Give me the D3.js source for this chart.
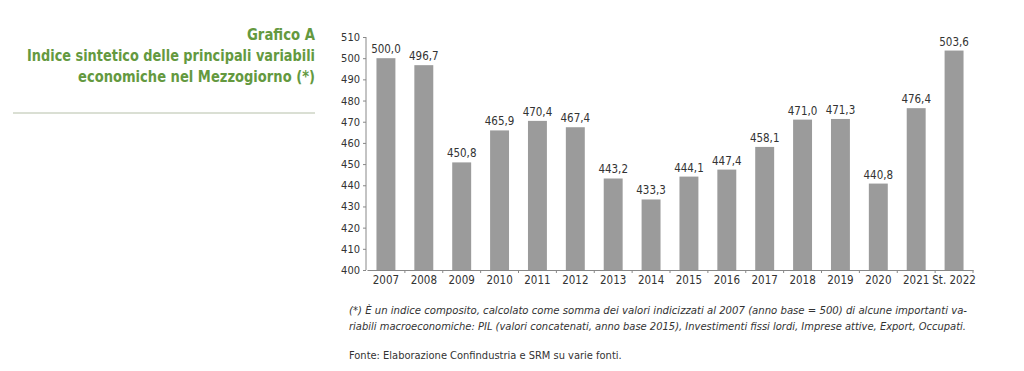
<!DOCTYPE html>
<html>
<head>
<meta charset="utf-8">
<script src="https://cdn.jsdelivr.net/npm/d3@7"></script>
<style>
  body { margin: 0; background: #fff; }
  svg { display: block; }
  .axis path, .axis line { stroke: #888; }
  .axis text { font-family: "Liberation Sans Narrow", "DejaVu Sans Condensed", sans-serif; font-size: 11px; fill: #333; }
</style>
</head>
<body>
<div id="chart"></div>
<script>
// categorie e valori (indice, 2007 = 500)
var years = ["2007", "2008", "2009", "2010", "2011", "2012", "2013", "2014",
             "2015", "2016", "2017", "2018", "2019", "2020", "2021", "St. 2022"];
var values = [500.0, 496.7, 450.8, 465.9, 470.4, 467.4, 443.2, 433.3,
              444.1, 447.4, 458.1, 471.0, 471.3, 440.8, 476.4, 503.6];
var yTicks = [400, 410, 420, 430, 440, 450, 460, 470, 480, 490, 500, 510];

var titleLines = ["Grafico A", "Indice sintetico delle principali variabili", "economiche nel Mezzogiorno (*)"];
var noteLines = ["(*) È un indice composito, calcolato come somma dei valori indicizzati al 2007 (anno base = 500) di alcune importanti va-",
                 "riabili macroeconomiche: PIL (valori concatenati, anno base 2015), Investimenti fissi lordi, Imprese attive, Export, Occupati."];
var source = "Fonte: Elaborazione Confindustria e SRM su varie fonti.";

var width = 1024, height = 371;
var green = "#64993f";
var titleWidths = [68, 288, 237];

var svg = d3.select("#chart").append("svg")
  .attr("width", width)
  .attr("height", height);

// titolo a sinistra
var title = svg.append("g");
title.selectAll("text")
  .data(titleLines)
  .enter().append("text")
  .attr("x", 315)
  .attr("y", function(d, i) { return 40 + i * 21; })
  .attr("text-anchor", "end")
  .attr("textLength", function(d, i) { return titleWidths[i]; })
  .attr("lengthAdjust", "spacingAndGlyphs")
  .style("font-family", "'Liberation Sans Narrow', 'DejaVu Sans Condensed', sans-serif")
  .style("font-weight", "bold")
  .style("font-size", "15.5px")
  .style("fill", green)
  .text(function(d) { return d; });

svg.append("line")
  .attr("x1", 13).attr("x2", 315)
  .attr("y1", 113).attr("y2", 113)
  .style("stroke", "#b5bfa8")
  .style("stroke-width", 1);

// scale
var x = d3.scaleBand()
  .domain(years)
  .range([367, 973])
  .paddingInner(0.5)
  .paddingOuter(0.25);

var y = d3.scaleLinear()
  .domain([400, 510])
  .range([270, 37]);

// assi
svg.append("g")
  .attr("class", "axis")
  .attr("transform", "translate(366,0)")
  .call(d3.axisLeft(y).tickValues(yTicks).tickSize(3).tickPadding(3).tickSizeOuter(0))
  .call(function(g) { g.select(".domain").attr("d", "M0," + y(510) + "V" + y(400)); });

var xAxis = svg.append("g")
  .attr("class", "axis")
  .attr("transform", "translate(0,270)")
  .call(d3.axisBottom(x).tickSize(0).tickPadding(6).tickSizeOuter(0));
xAxis.selectAll("text").style("font-size", "11.5px");

// tacche tra le categorie
var step = x.step();
xAxis.selectAll(".sep")
  .data(years)
  .enter().append("line")
  .attr("class", "sep")
  .attr("x1", function(d) { return x(d) + x.bandwidth() / 2 + step / 2; })
  .attr("x2", function(d) { return x(d) + x.bandwidth() / 2 + step / 2; })
  .attr("y1", 0).attr("y2", 3)
  .style("stroke", "#888");

// barre
svg.selectAll(".bar")
  .data(values)
  .enter().append("rect")
  .attr("class", "bar")
  .attr("x", function(d, i) { return x(years[i]); })
  .attr("width", x.bandwidth())
  .attr("y", function(d) { return y(d); })
  .attr("height", function(d) { return y(400) - y(d); })
  .style("fill", "#9b9b9b");

// etichette dei valori
var fmt = d3.format(".1f");
svg.selectAll(".val")
  .data(values)
  .enter().append("text")
  .attr("class", "val")
  .attr("x", function(d, i) { return x(years[i]) + x.bandwidth() / 2; })
  .attr("y", function(d) { return y(d) - 5; })
  .attr("text-anchor", "middle")
  .style("font-family", "'Liberation Sans Narrow', 'DejaVu Sans Condensed', sans-serif")
  .style("font-size", "11.5px")
  .style("fill", "#333")
  .text(function(d) { return fmt(d).replace(".", ","); });

// note
svg.selectAll(".note")
  .data(noteLines)
  .enter().append("text")
  .attr("class", "note")
  .attr("x", 349)
  .attr("y", function(d, i) { return 314 + i * 16; })
  .attr("textLength", function(d, i) { return i == 0 ? 618 : 617; })
  .attr("lengthAdjust", "spacingAndGlyphs")
  .style("font-family", "'Liberation Sans Narrow', 'DejaVu Sans Condensed', sans-serif")
  .style("font-style", "italic")
  .style("font-size", "11px")
  .style("fill", "#333")
  .text(function(d) { return d; });

svg.append("text")
  .attr("x", 349)
  .attr("y", 359)
  .style("font-family", "'Liberation Sans Narrow', 'DejaVu Sans Condensed', sans-serif")
  .style("font-size", "11px")
  .style("fill", "#333")
  .text(source);
</script>
</body>
</html>
